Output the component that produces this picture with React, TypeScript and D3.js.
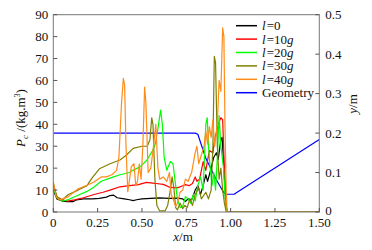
import React from "react";
import * as d3 from "d3";

type Pt = [number, number];

const xTicks = [0, 0.25, 0.5, 0.75, 1.0, 1.25, 1.5];
const xTickLabels = ["0", "0.25", "0.50", "0.75", "1.00", "1.25", "1.50"];
const yLeftTicks = [0, 10, 20, 30, 40, 50, 60, 70, 80, 90];
const yRightTicks = [0, 0.1, 0.2, 0.3, 0.4, 0.5];
const yRightLabels = ["0", "0.1", "0.2", "0.3", "0.4", "0.5"];

const l0: Pt[] = [[0,10],[0.02,6],[0.05,5],[0.08,4.7],[0.11,4.7],[0.13,5.5],[0.17,6],[0.22,6],[0.26,6.2],[0.3,6.8],[0.32,7.5],[0.34,7.7],[0.36,6.5],[0.4,6],[0.43,5.6],[0.45,5.2],[0.47,5.6],[0.5,6],[0.55,6.2],[0.6,6.4],[0.65,6.2],[0.7,6.3],[0.73,6],[0.745,4.8],[0.76,6],[0.78,5.5],[0.8,10],[0.815,12],[0.83,8],[0.845,12],[0.86,17],[0.87,14],[0.89,20],[0.905,25],[0.92,27],[0.93,24],[0.945,33],[0.952,34],[0.962,20],[0.972,5],[0.98,0],[1.5,0]];

const l10: Pt[] = [[0,12],[0.02,7],[0.05,5.5],[0.08,5],[0.12,5.5],[0.17,6.5],[0.23,8],[0.28,9],[0.32,10],[0.376,11.5],[0.43,12],[0.48,12.5],[0.526,13.5],[0.56,13.2],[0.58,13],[0.62,12.6],[0.66,11.2],[0.7,11],[0.73,12],[0.745,12.5],[0.765,12],[0.785,13],[0.8,16],[0.81,14],[0.825,15],[0.845,23],[0.86,19],[0.88,28],[0.9,27],[0.91,33],[0.93,40],[0.945,43],[0.955,42],[0.965,20],[0.975,3],[0.98,0],[1.5,0]];

const l20: Pt[] = [[0,11],[0.02,6.5],[0.05,5],[0.08,5.5],[0.13,7.3],[0.19,9.4],[0.23,11.4],[0.27,14],[0.34,16],[0.376,17],[0.43,18],[0.45,19],[0.49,20.7],[0.526,23.5],[0.56,28],[0.575,31],[0.59,38],[0.605,46.5],[0.615,40],[0.625,25],[0.64,19],[0.66,23],[0.675,22],[0.69,12],[0.7,6],[0.715,2],[0.73,2.5],[0.745,7],[0.76,6],[0.775,4],[0.79,8],[0.8,5],[0.815,12],[0.83,16],[0.845,10],[0.86,40],[0.868,43],[0.875,30],[0.885,20],[0.895,12],[0.905,18],[0.915,10],[0.925,25],[0.935,44],[0.945,30],[0.96,20],[0.97,5],[0.98,0],[1.5,0]];

const l30: Pt[] = [[0,13],[0.02,7],[0.05,5.5],[0.085,8],[0.14,10],[0.19,12],[0.22,15.7],[0.26,19.7],[0.32,22],[0.376,23.7],[0.413,26],[0.45,29],[0.5,30],[0.53,30],[0.545,33],[0.555,43],[0.562,40],[0.573,15],[0.584,3],[0.6,0.5],[0.63,0.5],[0.645,3],[0.66,10],[0.67,16],[0.68,11],[0.69,2],[0.7,1],[0.715,4],[0.73,1.5],[0.742,3],[0.755,2],[0.77,6],[0.785,3],[0.8,8],[0.82,11],[0.835,6],[0.86,9],[0.875,6],[0.89,10],[0.9,30],[0.908,71],[0.915,68],[0.925,30],[0.935,15],[0.945,20],[0.955,10],[0.965,4],[0.975,0],[1.5,0]];

const l40: Pt[] = [[0,14],[0.015,7],[0.035,5.5],[0.085,7],[0.14,10.6],[0.19,12.2],[0.23,13.7],[0.27,16],[0.3,16],[0.33,17],[0.357,19],[0.37,25],[0.385,50],[0.395,61],[0.402,58],[0.41,30],[0.42,9.3],[0.44,20.7],[0.455,22],[0.465,12],[0.475,14],[0.485,22],[0.495,15],[0.505,30],[0.515,57],[0.522,50],[0.535,18],[0.55,20],[0.565,30],[0.578,40],[0.59,20],[0.6,15],[0.62,16],[0.64,14],[0.655,18],[0.665,8],[0.68,5],[0.69,2.5],[0.7,4],[0.715,9],[0.73,10],[0.745,15],[0.76,14],[0.78,18],[0.8,27],[0.81,30],[0.82,22],[0.835,26],[0.85,30],[0.86,37],[0.87,31],[0.88,39],[0.89,34],[0.9,42],[0.91,30],[0.925,40],[0.935,60],[0.945,55],[0.955,84],[0.962,80],[0.968,40],[0.975,10],[0.98,0],[1.5,0]];

const geometry: Pt[] = [[0,0.2],[0.8,0.2],[0.815,0.197],[0.86,0.136],[0.92,0.081],[0.96,0.05],[0.975,0.045],[1.02,0.045],[1.03,0.048],[1.5,0.184]];

const seriesNames = ["l=0", "l=10g", "l=20g", "l=30g", "l=40g", "Geometry"];
const seriesColors = ["#000000", "#ff0000", "#00ff00", "#808000", "#ff8c1a", "#0000ff"];

const L = 53.3, R = 319.3, T = 14.7, B = 212;
const FONT = "'Liberation Serif', 'Times New Roman', serif";

export default function App() {
  const x = d3.scaleLinear().domain([0, 1.5]).range([L, R]);
  const yL = d3.scaleLinear().domain([0, 90]).range([B, T]);
  const yR = d3.scaleLinear().domain([0, 0.5]).range([B, T]);
  const lineL = d3.line<Pt>().x(d => x(d[0])).y(d => yL(d[1]));
  const lineR = d3.line<Pt>().x(d => x(d[0])).y(d => yR(d[1]));
  const left = [l0, l10, l20, l30, l40];
  const tk = 4;
  const legendY0 = 25.7, legendDy = 13.4;

  const legendLabel = (i: number) => {
    if (i === 5) return "Geometry";
    const n = seriesNames[i].slice(2);
    const hasG = n.endsWith("g");
    return (
      <>
        <tspan fontStyle="italic">l</tspan>
        <tspan dx={1}>={hasG ? n.slice(0, -1) : n}</tspan>
        {hasG && <tspan fontStyle="italic">g</tspan>}
      </>
    );
  };

  return (
    <div style={{ position: "absolute", left: 0, top: 0 }}>
      <svg width={372} height={250} style={{ display: "block", background: "#fff" }} fontFamily={FONT}>
        <defs>
          <clipPath id="plot">
            <rect x={L} y={T - 2} width={R - L} height={B - T + 2} />
          </clipPath>
        </defs>
        <g clipPath="url(#plot)" fill="none" strokeWidth={1.2} strokeLinejoin="round">
          <path d={lineR(geometry) || ""} stroke={seriesColors[5]} />
          {left.map((s, i) => (
            <path key={i} d={lineL(s) || ""} stroke={seriesColors[i]} />
          ))}
        </g>
        <rect x={L} y={T} width={R - L} height={B - T} fill="none" stroke="#777" strokeWidth={1} />
        {yLeftTicks.map(t => (
          <g key={"yl" + t}>
            <line x1={L} x2={L + tk} y1={yL(t)} y2={yL(t)} stroke="#555" />
            <text x={L - 5} y={yL(t) + 4.5} fontSize={13} textAnchor="end" fill="#111">{t}</text>
          </g>
        ))}
        {yRightTicks.map((t, i) => (
          <g key={"yr" + t}>
            <line x1={R - tk} x2={R} y1={yR(t)} y2={yR(t)} stroke="#555" />
            <text x={R + 6} y={yR(t) + (t === 0 ? 2.5 : 4.5)} fontSize={13} textAnchor="start" fill="#111">{yRightLabels[i]}</text>
          </g>
        ))}
        {xTicks.map((t, i) => (
          <g key={"x" + t}>
            <line x1={x(t)} x2={x(t)} y1={B} y2={B - tk} stroke="#555" />
            <text x={x(t)} y={227} fontSize={13} textAnchor="middle" fill="#111">{xTickLabels[i]}</text>
          </g>
        ))}
        <text x={183} y={241} fontSize={13} textAnchor="middle" fill="#111">
          <tspan fontStyle="italic">x</tspan>/m
        </text>
        <text transform="translate(25,118) rotate(-90)" fontSize={13} textAnchor="middle" fill="#111">
          <tspan fontStyle="italic">P</tspan>
          <tspan fontStyle="italic" fontSize={9} dy={3}>c</tspan>
          <tspan dy={-3}> /(kg.m</tspan>
          <tspan fontSize={8} dy={-5}>3</tspan>
          <tspan dy={5}>)</tspan>
        </text>
        <text transform="translate(357,104) rotate(-90)" fontSize={13} textAnchor="middle" fill="#111">
          <tspan fontStyle="italic">y</tspan>/m
        </text>
        {seriesNames.map((n, i) => (
          <g key={n}>
            <line x1={236} x2={257} y1={legendY0 + i * legendDy} y2={legendY0 + i * legendDy} stroke={seriesColors[i]} strokeWidth={1.5} />
            <text x={262} y={legendY0 + i * legendDy + 4.5} fontSize={13} fill="#111">{legendLabel(i)}</text>
          </g>
        ))}
      </svg>
    </div>
  );
}
